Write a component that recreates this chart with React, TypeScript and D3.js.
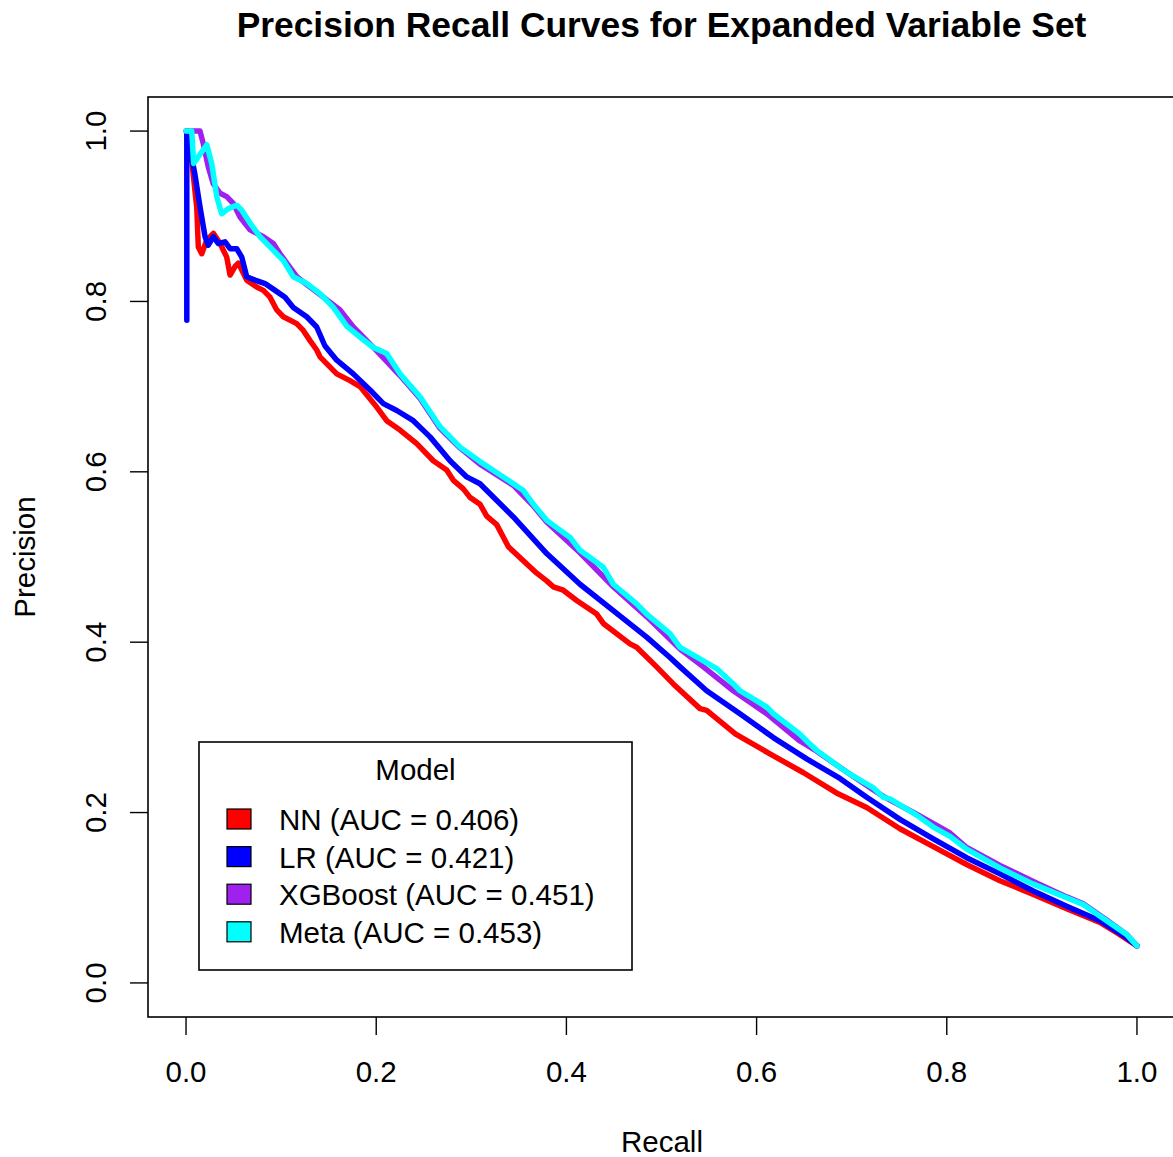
import React, { useEffect } from "react";
import * as d3 from "d3";

const chartTitle = "Precision Recall Curves for Expanded Variable Set";
const xTicks = [0, 0.2, 0.4, 0.6, 0.8, 1.0];
const yTicks = [0, 0.2, 0.4, 0.6, 0.8, 1.0];

const modelNames = ["NN", "LR", "XGBoost", "Meta"];
const modelAUC = ["0.406", "0.421", "0.451", "0.453"];
const modelColors = ["#FF0000", "#0000FF", "#A020F0", "#00FFFF"];

// [recall, precision]
const nnPoints: [number, number][] = [
  [0.002, 1.0], [0.0063, 0.962], [0.0113, 0.91], [0.0129, 0.864], [0.0165, 0.856],
  [0.0218, 0.872], [0.0287, 0.88], [0.0358, 0.868], [0.0428, 0.852], [0.0463, 0.831],
  [0.0515, 0.841], [0.055, 0.845], [0.0586, 0.837], [0.0638, 0.825], [0.0743, 0.817],
  [0.0813, 0.813], [0.0883, 0.805], [0.0954, 0.79], [0.1023, 0.782], [0.1164, 0.774],
  [0.1233, 0.766], [0.1304, 0.754], [0.1374, 0.743], [0.1409, 0.735], [0.1585, 0.715],
  [0.1724, 0.707], [0.183, 0.7], [0.2005, 0.676], [0.211, 0.66], [0.225, 0.649],
  [0.2426, 0.633], [0.26, 0.613], [0.2741, 0.602], [0.2811, 0.59], [0.2916, 0.58],
  [0.2986, 0.57], [0.3091, 0.562], [0.3162, 0.548], [0.3267, 0.538], [0.339, 0.512],
  [0.3688, 0.481], [0.3793, 0.472], [0.3862, 0.465], [0.3967, 0.461], [0.4108, 0.449],
  [0.4319, 0.433], [0.4388, 0.422], [0.4669, 0.398], [0.4739, 0.394], [0.4949, 0.371],
  [0.5124, 0.351], [0.5405, 0.322], [0.5475, 0.32], [0.578, 0.292], [0.614, 0.269],
  [0.649, 0.247], [0.684, 0.223], [0.7158, 0.206], [0.7508, 0.181], [0.7858, 0.16],
  [0.8209, 0.139], [0.8559, 0.12], [0.891, 0.104], [0.9261, 0.087], [0.9611, 0.071],
  [0.98, 0.058], [1.0, 0.0435],
];

const lrPoints: [number, number][] = [
  [0.0008, 0.778], [0.0008, 1.0], [0.0095, 0.948], [0.0147, 0.911],
  [0.02, 0.876], [0.0234, 0.866], [0.0287, 0.876], [0.034, 0.868], [0.041, 0.87],
  [0.0463, 0.862], [0.0533, 0.862], [0.0586, 0.852], [0.0638, 0.829], [0.0726, 0.825],
  [0.0831, 0.821], [0.0936, 0.813], [0.1041, 0.805], [0.1128, 0.793], [0.1269, 0.782],
  [0.1374, 0.77], [0.146, 0.748], [0.1585, 0.731], [0.1759, 0.715], [0.1935, 0.696],
  [0.2075, 0.68], [0.2216, 0.672], [0.239, 0.66], [0.2566, 0.641], [0.2776, 0.613],
  [0.2952, 0.594], [0.3091, 0.586], [0.3442, 0.547], [0.3793, 0.504], [0.4143, 0.468],
  [0.4493, 0.437], [0.4844, 0.406], [0.5089, 0.382], [0.5195, 0.371], [0.5475, 0.343],
  [0.5825, 0.316], [0.6176, 0.288], [0.6527, 0.263], [0.6877, 0.24], [0.7158, 0.218],
  [0.7508, 0.192], [0.7858, 0.169], [0.8209, 0.147], [0.8559, 0.128], [0.891, 0.108],
  [0.9261, 0.09], [0.9611, 0.073], [0.9891, 0.053], [1.0, 0.0435],
];

const xgbPoints: [number, number][] = [
  [0.0, 1.0], [0.0147, 1.0], [0.0182, 0.985], [0.0234, 0.958], [0.0287, 0.938],
  [0.0358, 0.927], [0.0428, 0.923], [0.0497, 0.915], [0.0568, 0.899], [0.0673, 0.884],
  [0.0813, 0.876], [0.0918, 0.868], [0.0988, 0.856], [0.1059, 0.845], [0.1164, 0.829],
  [0.1304, 0.817], [0.1444, 0.805], [0.1619, 0.79], [0.1759, 0.77], [0.197, 0.746],
  [0.225, 0.713], [0.2461, 0.686], [0.2671, 0.651], [0.2881, 0.628], [0.3091, 0.609],
  [0.3442, 0.584], [0.3652, 0.56], [0.3793, 0.541], [0.4143, 0.505], [0.4493, 0.465],
  [0.4844, 0.43], [0.5195, 0.392], [0.544, 0.371], [0.5755, 0.343], [0.6106, 0.316],
  [0.6456, 0.284], [0.6632, 0.272], [0.6982, 0.245], [0.7332, 0.219], [0.7683, 0.198],
  [0.8034, 0.176], [0.8209, 0.159], [0.8559, 0.138], [0.891, 0.119], [0.9261, 0.101],
  [0.9435, 0.093], [0.9681, 0.074], [0.9891, 0.057], [1.0, 0.0435],
];

const metaPoints: [number, number][] = [
  [0.0, 1.0], [0.006, 1.0], [0.008, 0.962], [0.0218, 0.984], [0.027, 0.962],
  [0.0323, 0.923], [0.0375, 0.903], [0.0445, 0.909], [0.0533, 0.913], [0.0586, 0.907],
  [0.0673, 0.892], [0.0778, 0.876], [0.0918, 0.86], [0.1023, 0.848], [0.1128, 0.829],
  [0.1269, 0.821], [0.1409, 0.809], [0.1549, 0.793], [0.169, 0.771], [0.183, 0.758],
  [0.197, 0.746], [0.211, 0.739], [0.225, 0.715], [0.2461, 0.688], [0.2671, 0.653],
  [0.2881, 0.629], [0.3091, 0.612], [0.3336, 0.594], [0.3547, 0.578], [0.3652, 0.562],
  [0.3793, 0.543], [0.4038, 0.523], [0.4143, 0.508], [0.4388, 0.488], [0.4493, 0.468],
  [0.4739, 0.445], [0.4844, 0.433], [0.5089, 0.41], [0.5195, 0.394], [0.544, 0.378],
  [0.558, 0.369], [0.5755, 0.351], [0.5825, 0.343], [0.6106, 0.324], [0.6176, 0.316],
  [0.6456, 0.292], [0.6527, 0.284], [0.6632, 0.273], [0.6877, 0.253], [0.6982, 0.245],
  [0.7228, 0.229], [0.7332, 0.218], [0.7403, 0.216], [0.7683, 0.197], [0.7858, 0.183],
  [0.8034, 0.172], [0.8209, 0.157], [0.8559, 0.135], [0.891, 0.116], [0.9261, 0.1],
  [0.9435, 0.092], [0.9681, 0.073], [0.9891, 0.057], [1.0, 0.0435],
];

const seriesPoints = [nnPoints, lrPoints, xgbPoints, metaPoints];

const W = 1173;
const H = 1157;
const FONT = "'Liberation Sans', Arial, Helvetica, sans-serif";

export default function App() {
  useEffect(() => {
    document.body.style.margin = "0";
  }, []);

  const x = d3.scaleLinear().domain([-0.04, 1.04]).range([148, 1175]);
  const y = d3.scaleLinear().domain([-0.04, 1.04]).range([1017, 97]);
  const line = d3
    .line<[number, number]>()
    .x((d) => x(d[0]))
    .y((d) => y(d[1]));

  const [x0, x1] = x.range();
  const [y0, y1] = y.range();

  const legendX = 199;
  const legendY = 742;
  const legendW = 433;
  const legendH = 228;
  const entryBase = 830;
  const entryStep = 37.6;

  return (
    <svg
      width={W}
      height={H}
      style={{ position: "absolute", left: 0, top: 0, display: "block", background: "#fff" }}
      fontFamily={FONT}
    >
      <rect x={0} y={0} width={W} height={H} fill="#fff" />
      <text x={661.5} y={37} textAnchor="middle" fontSize={35.4} fontWeight="bold" fill="#000">
        {chartTitle}
      </text>

      {seriesPoints.map((pts, i) => (
        <path
          key={modelNames[i]}
          d={line(pts) || ""}
          fill="none"
          stroke={modelColors[i]}
          strokeWidth={5.5}
          strokeLinejoin="round"
          strokeLinecap="round"
        />
      ))}

      <rect x={x0} y={y1} width={x1 - x0} height={y0 - y1} fill="none" stroke="#000" strokeWidth={1.6} />

      {xTicks.map((t) => (
        <g key={"x" + t}>
          <line x1={x(t)} x2={x(t)} y1={y0} y2={y0 + 18} stroke="#000" strokeWidth={1.4} />
          <text x={x(t)} y={1082} textAnchor="middle" fontSize={29.5} fill="#000">
            {t.toFixed(1)}
          </text>
        </g>
      ))}
      {yTicks.map((t) => (
        <g key={"y" + t}>
          <line x1={x0 - 18} x2={x0} y1={y(t)} y2={y(t)} stroke="#000" strokeWidth={1.4} />
          <text
            transform={`translate(106, ${y(t)}) rotate(-90)`}
            textAnchor="middle"
            fontSize={29.5}
            fill="#000"
          >
            {t.toFixed(1)}
          </text>
        </g>
      ))}

      <text x={662} y={1152} textAnchor="middle" fontSize={29.5} fill="#000">
        Recall
      </text>
      <text transform={`translate(35, ${(y0 + y1) / 2}) rotate(-90)`} textAnchor="middle" fontSize={29.5} fill="#000">
        Precision
      </text>

      <rect x={legendX} y={legendY} width={legendW} height={legendH} fill="#fff" stroke="#000" strokeWidth={1.6} />
      <text x={legendX + legendW / 2} y={780} textAnchor="middle" fontSize={29.5} fill="#000">
        Model
      </text>
      {modelNames.map((name, i) => (
        <g key={"leg" + name}>
          <rect
            x={227}
            y={entryBase + i * entryStep - 21}
            width={24}
            height={20}
            fill={modelColors[i]}
            stroke="#000"
            strokeWidth={1.2}
          />
          <text x={279} y={entryBase + i * entryStep} fontSize={29.5} fill="#000">
            {`${name} (AUC = ${modelAUC[i]})`}
          </text>
        </g>
      ))}
    </svg>
  );
}
